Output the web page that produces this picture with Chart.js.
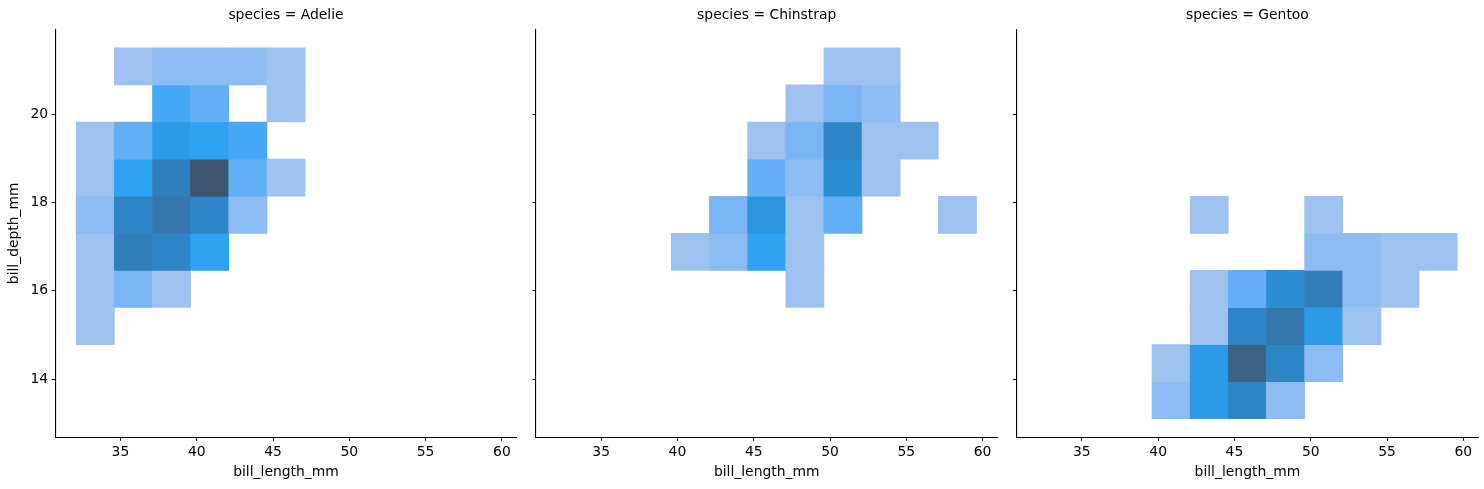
<!DOCTYPE html>
<html>
<head>
<meta charset="utf-8">
<script src="https://cdn.jsdelivr.net/npm/chart.js@4/dist/chart.umd.min.js"></script>
<style>
html,body{margin:0;padding:0;background:#fff;}
#wrap{position:relative;width:1484px;height:489px;overflow:hidden;background:#fff;}
#wrap canvas{position:absolute;top:0;}
</style>
</head>
<body>
<div id="wrap">
<canvas id="c0" style="left:0px;width:522px;height:489px"></canvas>
<canvas id="c1" style="left:481px;width:522px;height:489px"></canvas>
<canvas id="c2" style="left:962px;width:522px;height:489px"></canvas>
</div>
<script>
// ---------------- data ----------------
const species = ["Adelie", "Chinstrap", "Gentoo"];
const lengthEdges = [32.1, 34.6, 37.1, 39.6, 42.1, 44.6, 47.1, 49.6, 52.1, 54.6, 57.1, 59.6];
const depthEdges = [13.1, 13.94, 14.78, 15.62, 16.46, 17.3, 18.14, 18.98, 19.82, 20.66, 21.5];
const xTicks = [35, 40, 45, 50, 55, 60];
const yTicks = [14, 16, 18, 20];
// rows: depth bins from bottom (13.1) to top (21.5); columns: length bins
const adelieCounts = [
  [0, 0, 0, 0, 0, 0, 0, 0, 0, 0, 0],
  [0, 0, 0, 0, 0, 0, 0, 0, 0, 0, 0],
  [1, 0, 0, 0, 0, 0, 0, 0, 0, 0, 0],
  [1, 3, 1, 0, 0, 0, 0, 0, 0, 0, 0],
  [1, 11, 10, 6, 0, 0, 0, 0, 0, 0, 0],
  [2, 10, 12, 10, 2, 0, 0, 0, 0, 0, 0],
  [1, 6, 11, 17, 4, 1, 0, 0, 0, 0, 0],
  [1, 4, 7, 6, 5, 0, 0, 0, 0, 0, 0],
  [0, 0, 5, 4, 0, 1, 0, 0, 0, 0, 0],
  [0, 1, 2, 2, 2, 1, 0, 0, 0, 0, 0]
];
const chinstrapCounts = [
  [0, 0, 0, 0, 0, 0, 0, 0, 0, 0, 0],
  [0, 0, 0, 0, 0, 0, 0, 0, 0, 0, 0],
  [0, 0, 0, 0, 0, 0, 0, 0, 0, 0, 0],
  [0, 0, 0, 0, 0, 0, 1, 0, 0, 0, 0],
  [0, 0, 0, 1, 2, 6, 1, 0, 0, 0, 0],
  [0, 0, 0, 0, 3, 8, 1, 4, 0, 0, 1],
  [0, 0, 0, 0, 0, 4, 2, 9, 1, 0, 0],
  [0, 0, 0, 0, 0, 1, 3, 10, 1, 1, 0],
  [0, 0, 0, 0, 0, 0, 1, 3, 2, 0, 0],
  [0, 0, 0, 0, 0, 0, 0, 1, 1, 0, 0]
];
const gentooCounts = [
  [0, 0, 0, 2, 7, 10, 2, 0, 0, 0, 0],
  [0, 0, 0, 1, 7, 15, 10, 2, 0, 0, 0],
  [0, 0, 0, 0, 1, 10, 12, 7, 1, 0, 0],
  [0, 0, 0, 0, 1, 4, 9, 11, 2, 1, 0],
  [0, 0, 0, 0, 0, 0, 0, 2, 2, 1, 1],
  [0, 0, 0, 0, 1, 0, 0, 1, 0, 0, 0],
  [0, 0, 0, 0, 0, 0, 0, 0, 0, 0, 0],
  [0, 0, 0, 0, 0, 0, 0, 0, 0, 0, 0],
  [0, 0, 0, 0, 0, 0, 0, 0, 0, 0, 0],
  [0, 0, 0, 0, 0, 0, 0, 0, 0, 0, 0]
];
const countsBySpecies = [adelieCounts, chinstrapCounts, gentooCounts];

// ---------------- colormap (seaborn-style husl ramp from a base colour) ----------------
const M = [[3.2406, -1.5372, -0.4986], [-0.9689, 1.8758, 0.0415], [0.0557, -0.2040, 1.0570]];
const M_INV = [[0.4124, 0.3576, 0.1805], [0.2126, 0.7152, 0.0722], [0.0193, 0.1192, 0.9505]];
const refU = 0.19784, refV = 0.46834, labE = 0.008856, labK = 903.3;
function dot(a, b) { return a[0]*b[0] + a[1]*b[1] + a[2]*b[2]; }
function maxChroma(L, H) {
  const hr = H * Math.PI / 180, sinH = Math.sin(hr), cosH = Math.cos(hr);
  const sub1 = Math.pow(L + 16, 3) / 1560896.0;
  const sub2 = sub1 > 0.008856 ? sub1 : L / 903.3;
  let res = Infinity;
  for (const row of M) {
    const [m1, m2, m3] = row;
    const top = (0.99915*m1 + 1.05122*m2 + 1.14460*m3) * sub2;
    const rb = 0.86330*m3 - 0.17266*m2;
    const lb = 0.12949*m3 - 0.38848*m1;
    const bottom = (rb*sinH + lb*cosH) * sub2;
    for (const t of [0, 1]) {
      const C = L * (top - 1.05122*t) / (bottom + 0.17266*sinH*t);
      if (C > 0 && C < res) res = C;
    }
  }
  return res;
}
function fLab(t) { return t > labE ? Math.pow(t, 1/3) : 7.787*t + 16/116; }
function fInv(t) { return Math.pow(t, 3) > labE ? Math.pow(t, 3) : (116*t - 16) / labK; }
function fromLinear(c) { return c <= 0.0031308 ? 12.92*c : 1.055*Math.pow(c, 1/2.4) - 0.055; }
function toLinear(c) { return c > 0.04045 ? Math.pow((c + 0.055)/1.055, 2.4) : c/12.92; }
function rgbToHusl(r, g, b) {
  const lin = [toLinear(r), toLinear(g), toLinear(b)];
  const [X, Y, Z] = M_INV.map(row => dot(row, lin));
  const den = X + 15*Y + 3*Z;
  const vu = 4*X/den, vv = 9*Y/den;
  const L = 116*fLab(Y) - 16;
  const U = 13*L*(vu - refU), V = 13*L*(vv - refV);
  const C = Math.sqrt(U*U + V*V);
  let H = Math.atan2(V, U) * 180 / Math.PI; if (H < 0) H += 360;
  return [H, C / maxChroma(L, H) * 100, L];
}
function huslToRgb(H, S, L) {
  const C = maxChroma(L, H) / 100 * S;
  const hr = H * Math.PI / 180;
  const U = Math.cos(hr)*C, V = Math.sin(hr)*C;
  const Y = fInv((L + 16)/116);
  const vu = U/(13*L) + refU, vv = V/(13*L) + refV;
  const X = -(9*Y*vu) / ((vu - 4)*vv - vu*vv);
  const Z = (9*Y - 15*vv*Y - vv*X) / (3*vv);
  return M.map(row => fromLinear(dot(row, [X, Y, Z])));
}
function makeCmap(hex) {
  const r = parseInt(hex.slice(1, 3), 16)/255, g = parseInt(hex.slice(3, 5), 16)/255, b = parseInt(hex.slice(5, 7), 16)/255;
  const [h, s] = rgbToHusl(r, g, b);
  const n = Math.floor(1.15*256);
  const cols = [];
  for (let j = 0; j < 256; j++) {
    const xx = -1 + 2*j/(n - 1);
    const l = 35 + 45*j/255;
    const rgb = huslToRgb(h, s*Math.cos(xx), l).map(v => Math.round(Math.min(1, Math.max(0, v))*255));
    cols.push(`rgb(${rgb[0]},${rgb[1]},${rgb[2]})`);
  }
  return cols.reverse();
}
const cmap = makeCmap("#1f77b4");
const vmax = Math.max(...countsBySpecies.flat(2));
function colourFor(c) {
  let idx = Math.floor(c / vmax * 256);
  if (idx > 255) idx = 255;
  return cmap[idx];
}

// ---------------- charts ----------------
const FONT = {family: "'DejaVu Sans', sans-serif", size: 13.9, lineHeight: 1.2};
const canvasLeft = [0, 481, 962];
const areaLeft = [55.2, 535.9, 1016.6];
const areaWidth = 461.6;
const canvasW = 522, canvasH = 489;
const areaBottom = 437.3;

species.forEach((sp, i) => {
  const counts = countsBySpecies[i];
  const cells = [];
  counts.forEach((row, r) => row.forEach((c, k) => {
    if (c > 0) cells.push({x: (lengthEdges[k] + lengthEdges[k+1]) / 2, y: [depthEdges[r], depthEdges[r+1]], count: c});
  }));
  const yw = areaLeft[i] - canvasLeft[i];
  const padRight = canvasLeft[i] + canvasW - (areaLeft[i] + areaWidth);
  const xPad = (lengthEdges[lengthEdges.length-1] - lengthEdges[0]) * 0.05;
  const yPad = (depthEdges[depthEdges.length-1] - depthEdges[0]) * 0.05;
  const cv = document.getElementById('c' + i);
  cv.width = canvasW; cv.height = canvasH;
  new Chart(cv, {
    type: 'bar',
    data: {
      datasets: [{
        data: cells,
        backgroundColor: ctx => colourFor(ctx.raw ? ctx.raw.count : 0),
        borderWidth: 0,
        barPercentage: 1,
        categoryPercentage: 1,
        inflateAmount: 0.33
      }]
    },
    options: {
      responsive: false,
      animation: false,
      devicePixelRatio: 1,
      events: [],
      layout: {padding: {left: 0, right: padRight, top: 0, bottom: 0}},
      plugins: {
        legend: {display: false},
        tooltip: {enabled: false},
        title: {
          display: true,
          fullSize: false,
          text: 'species = ' + sp,
          color: '#000',
          font: {family: FONT.family, size: FONT.size, weight: 'normal', lineHeight: 1.2},
          padding: {top: 7.3, bottom: 5.32}
        }
      },
      scales: {
        x: {
          type: 'linear',
          offset: false,
          min: lengthEdges[0] - xPad,
          max: lengthEdges[lengthEdges.length-1] + xPad,
          afterBuildTicks: s => { s.ticks = xTicks.map(v => ({value: v})); },
          afterFit: s => { s.height = canvasH - areaBottom; },
          ticks: {color: '#000', font: FONT, padding: 3, maxRotation: 0, autoSkip: false},
          grid: {offset: false, drawOnChartArea: false, drawTicks: true, tickLength: 3.5, tickColor: '#000', tickWidth: 1.1},
          border: {display: true, color: '#000', width: 1.1},
          title: {display: true, text: 'bill_length_mm', color: '#000', font: FONT, padding: {top: 0, bottom: 8.66}}
        },
        y: {
          type: 'linear',
          min: depthEdges[0] - yPad,
          max: depthEdges[depthEdges.length-1] + yPad,
          afterBuildTicks: s => { s.ticks = yTicks.map(v => ({value: v})); },
          afterFit: s => { s.width = yw; },
          ticks: {display: i === 0, color: '#000', font: FONT, padding: 3.5},
          grid: {drawOnChartArea: false, drawTicks: true, tickLength: 3.5, tickColor: '#000', tickWidth: 1.1},
          border: {display: true, color: '#000', width: 1.1},
          title: {display: i === 0, text: 'bill_depth_mm', color: '#000', font: FONT, padding: {top: 6.2, bottom: 0}}
        }
      }
    }
  });
});
</script>
</body>
</html>
